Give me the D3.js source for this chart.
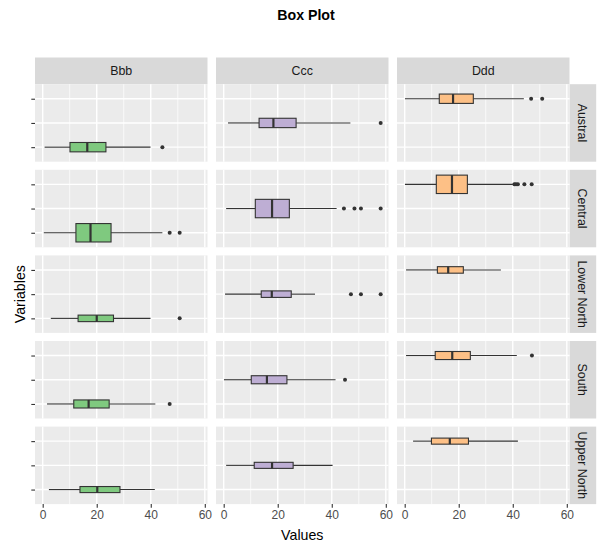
<!DOCTYPE html>
<html>
<head>
<meta charset="utf-8">
<script src="https://cdn.jsdelivr.net/npm/d3@7"></script>
<style>
  body { margin: 0; background: #fff; }
  svg { font-family: "Liberation Sans", Arial, sans-serif; }
</style>
</head>
<body>
<div id="chart"></div>
<script>
// Facets
const regions = ["Austral", "Central", "Lower North", "South", "Upper North"];
const variables = ["Bbb", "Ccc", "Ddd"];
const regionCounts = [31, 120, 15, 23, 13];

// Box stats per region: [lower whisker, q1, median, q3, upper whisker]
const bbbStats = [
  [0.7, 10.1, 16.5, 23.4, 39.9],
  [0.4, 12.3, 17.7, 25.3, 44.3],
  [3.0, 13.1, 20.0, 26.2, 39.9],
  [1.6, 11.5, 17.0, 24.6, 41.7],
  [2.3, 13.8, 20.2, 28.6, 41.5]
];
const cccStats = [
  [1.6, 13.1, 18.4, 26.8, 46.9],
  [0.9, 11.7, 17.9, 24.3, 41.8],
  [0.5, 13.9, 17.8, 25.0, 33.8],
  [0.1, 10.2, 16.0, 23.4, 41.4],
  [0.9, 11.3, 17.9, 25.7, 40.3]
];
const dddStats = [
  [0.1, 12.8, 17.9, 25.4, 44.1],
  [0.1, 11.7, 17.5, 23.2, 40.0],
  [0.5, 12.1, 16.1, 21.7, 35.6],
  [0.5, 11.3, 17.6, 24.3, 41.5],
  [3.1, 9.9, 16.7, 23.6, 41.9]
];

// Outliers per region
const bbbOutliers = [[44.3], [47.0, 50.7], [50.7], [47.0], []];
const cccOutliers = [[58.1], [44.5, 48.4, 50.8, 58.1], [47.1, 50.8, 58.1], [44.9], []];
const dddOutliers = [[46.8, 50.9], [40.6, 41.2, 41.9, 44.3, 47.0], [], [47.1], []];

const xTicks = [0, 20, 40, 60];
const xMinor = [10, 30, 50];
const fills = ["#7FC97F", "#BEAED4", "#FDC086"];

const statsByVar = [bbbStats, cccStats, dddStats];
const outliersByVar = [bbbOutliers, cccOutliers, dddOutliers];

// Layout
const width = 612, height = 547;
const left0 = 35, colStep = 181, panelW = 172.5;
const top0 = 84.2, rowStep = 85.6, panelH = 77.5;
const stripSize = 26.7;
const ink = "#333333";

const svg = d3.select("#chart").append("svg")
  .attr("width", width)
  .attr("height", height);

const x = d3.scaleLinear().domain([-2.85, 61.0]).range([0, panelW]);
const y = d3.scalePoint().domain(variables).range([panelH, 0]).padding(0.6);
const maxN = d3.max(regionCounts);
const boxH = n => 0.76 * y.step() * Math.sqrt(n / maxN);

// Column strips
variables.forEach((v, j) => {
  const g = svg.append("g").attr("transform", `translate(${left0 + j * colStep},${top0 - stripSize})`);
  g.append("rect").attr("width", panelW).attr("height", stripSize).attr("fill", "#D9D9D9");
  g.append("text")
    .attr("x", panelW / 2).attr("y", stripSize / 2 + 4.4)
    .attr("text-anchor", "middle")
    .attr("font-size", 12.4).attr("fill", "#1A1A1A")
    .text(v);
});

// Row strips
regions.forEach((r, i) => {
  const g = svg.append("g").attr("transform", `translate(${left0 + 2 * colStep + panelW},${top0 + i * rowStep})`);
  g.append("rect").attr("width", stripSize).attr("height", panelH).attr("fill", "#D9D9D9");
  g.append("text")
    .attr("transform", `translate(${stripSize / 2 - 4.4},${panelH / 2}) rotate(90)`)
    .attr("text-anchor", "middle")
    .attr("font-size", 12.4).attr("fill", "#1A1A1A")
    .text(r);
});

// Panels
regions.forEach((r, i) => {
  variables.forEach((v, j) => {
    const g = svg.append("g")
      .attr("transform", `translate(${left0 + j * colStep},${top0 + i * rowStep})`);

    g.append("rect").attr("width", panelW).attr("height", panelH).attr("fill", "#EBEBEB");

    g.selectAll(".minor").data(xMinor).join("line")
      .attr("x1", d => x(d)).attr("x2", d => x(d))
      .attr("y1", 0).attr("y2", panelH)
      .attr("stroke", "#fff").attr("stroke-width", 0.7);

    g.selectAll(".majorx").data(xTicks).join("line")
      .attr("x1", d => x(d)).attr("x2", d => x(d))
      .attr("y1", 0).attr("y2", panelH)
      .attr("stroke", "#fff").attr("stroke-width", 1.4);

    g.selectAll(".majory").data(variables).join("line")
      .attr("x1", 0).attr("x2", panelW)
      .attr("y1", d => y(d)).attr("y2", d => y(d))
      .attr("stroke", "#fff").attr("stroke-width", 1.4);

    const [lo, q1, med, q3, hi] = statsByVar[j][i];
    const cy = y(v);
    const h = boxH(regionCounts[i]);

    g.append("line")
      .attr("x1", x(lo)).attr("x2", x(q1)).attr("y1", cy).attr("y2", cy)
      .attr("stroke", ink).attr("stroke-width", 1.1);
    g.append("line")
      .attr("x1", x(q3)).attr("x2", x(hi)).attr("y1", cy).attr("y2", cy)
      .attr("stroke", ink).attr("stroke-width", 1.1);
    g.append("rect")
      .attr("x", x(q1)).attr("y", cy - h / 2)
      .attr("width", x(q3) - x(q1)).attr("height", h)
      .attr("fill", fills[j]).attr("stroke", ink).attr("stroke-width", 1.1);
    g.append("line")
      .attr("x1", x(med)).attr("x2", x(med))
      .attr("y1", cy - h / 2).attr("y2", cy + h / 2)
      .attr("stroke", ink).attr("stroke-width", 2.2);

    g.selectAll(".out").data(outliersByVar[j][i]).join("circle")
      .attr("cx", d => x(d)).attr("cy", cy).attr("r", 2)
      .attr("fill", ink);

    // y axis ticks on first column (labels left blank)
    if (j === 0) {
      g.append("g")
        .call(d3.axisLeft(y).tickSize(3.7).tickFormat(""))
        .call(a => a.select(".domain").remove())
        .call(a => a.selectAll("line").attr("stroke", ink).attr("stroke-width", 1.1));
    }

    // x axis on bottom row
    if (i === regions.length - 1) {
      g.append("g")
        .attr("transform", `translate(0,${panelH})`)
        .call(d3.axisBottom(x).tickValues(xTicks).tickSize(3.7).tickPadding(2.5))
        .call(a => a.select(".domain").remove())
        .call(a => a.selectAll("line").attr("stroke", ink).attr("stroke-width", 1.1))
        .call(a => a.selectAll("text")
          .attr("fill", "#4D4D4D")
          .attr("font-size", 12)
          .attr("font-family", "Liberation Sans, Arial, sans-serif"));
    }
  });
});

// Titles
const plotLeft = left0, plotRight = left0 + 2 * colStep + panelW;
const plotTop = top0, plotBottom = top0 + 4 * rowStep + panelH;

svg.append("text")
  .attr("x", width / 2).attr("y", 19.8)
  .attr("text-anchor", "middle")
  .attr("font-size", 14.2).attr("font-weight", "bold")
  .text("Box Plot");

svg.append("text")
  .attr("x", (plotLeft + plotRight) / 2).attr("y", 540)
  .attr("text-anchor", "middle")
  .attr("font-size", 14.2)
  .text("Values");

svg.append("text")
  .attr("transform", `translate(25,${(plotTop + plotBottom) / 2}) rotate(-90)`)
  .attr("text-anchor", "middle")
  .attr("font-size", 14.2)
  .text("Variables");
</script>
</body>
</html>
